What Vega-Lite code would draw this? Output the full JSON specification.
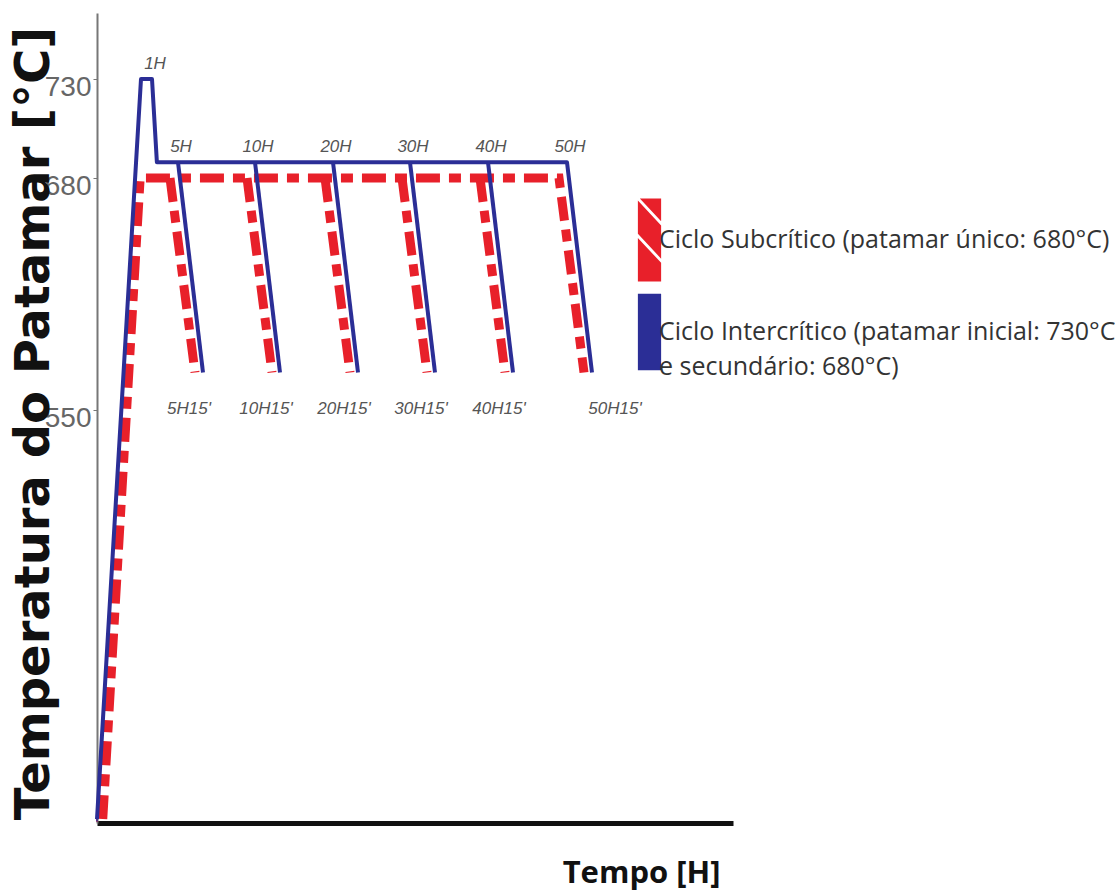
{
  "$schema": "https://vega.github.io/schema/vega-lite/v6.json",
  "width": 636,
  "height": 810,
  "autosize": {"type": "none"},
  "padding": {"left": 97, "top": 13, "right": 382, "bottom": 71},
  "background": "white",
  "config": {"view": {"stroke": null}, "style": {"guide-label": {"lineHeight": 35}}},
  "datasets": {
    "ciclos": [
      {"serie": "Ciclo Subcrítico (patamar único: 680°C)", "seg": "R0", "ord": 1, "t": 0.25, "temp": 25},
      {"serie": "Ciclo Subcrítico (patamar único: 680°C)", "seg": "R0", "ord": 2, "t": 0.93, "temp": 680},
      {"serie": "Ciclo Subcrítico (patamar único: 680°C)", "seg": "R0", "ord": 3, "t": 50, "temp": 680},
      {"serie": "Ciclo Subcrítico (patamar único: 680°C)", "seg": "R0", "ord": 4, "t": 50.25, "temp": 571},
      {"serie": "Ciclo Subcrítico (patamar único: 680°C)", "seg": "R5", "ord": 1, "t": 5, "temp": 680},
      {"serie": "Ciclo Subcrítico (patamar único: 680°C)", "seg": "R5", "ord": 2, "t": 5.25, "temp": 571},
      {"serie": "Ciclo Subcrítico (patamar único: 680°C)", "seg": "R10", "ord": 1, "t": 10, "temp": 680},
      {"serie": "Ciclo Subcrítico (patamar único: 680°C)", "seg": "R10", "ord": 2, "t": 10.25, "temp": 571},
      {"serie": "Ciclo Subcrítico (patamar único: 680°C)", "seg": "R20", "ord": 1, "t": 20, "temp": 680},
      {"serie": "Ciclo Subcrítico (patamar único: 680°C)", "seg": "R20", "ord": 2, "t": 20.25, "temp": 571},
      {"serie": "Ciclo Subcrítico (patamar único: 680°C)", "seg": "R30", "ord": 1, "t": 30, "temp": 680},
      {"serie": "Ciclo Subcrítico (patamar único: 680°C)", "seg": "R30", "ord": 2, "t": 30.25, "temp": 571},
      {"serie": "Ciclo Subcrítico (patamar único: 680°C)", "seg": "R40", "ord": 1, "t": 40, "temp": 680},
      {"serie": "Ciclo Subcrítico (patamar único: 680°C)", "seg": "R40", "ord": 2, "t": 40.25, "temp": 571},
      {"serie": "Ciclo Intercrítico (patamar inicial: 730°C e secundário: 680°C)", "seg": "B0", "ord": 1, "t": 0, "temp": 25},
      {"serie": "Ciclo Intercrítico (patamar inicial: 730°C e secundário: 680°C)", "seg": "B0", "ord": 2, "t": 0.8, "temp": 730},
      {"serie": "Ciclo Intercrítico (patamar inicial: 730°C e secundário: 680°C)", "seg": "B0", "ord": 3, "t": 1, "temp": 730},
      {"serie": "Ciclo Intercrítico (patamar inicial: 730°C e secundário: 680°C)", "seg": "B0", "ord": 4, "t": 1.75, "temp": 688},
      {"serie": "Ciclo Intercrítico (patamar inicial: 730°C e secundário: 680°C)", "seg": "B0", "ord": 5, "t": 50, "temp": 688},
      {"serie": "Ciclo Intercrítico (patamar inicial: 730°C e secundário: 680°C)", "seg": "B0", "ord": 6, "t": 50.25, "temp": 571},
      {"serie": "Ciclo Intercrítico (patamar inicial: 730°C e secundário: 680°C)", "seg": "B5", "ord": 1, "t": 5, "temp": 688},
      {"serie": "Ciclo Intercrítico (patamar inicial: 730°C e secundário: 680°C)", "seg": "B5", "ord": 2, "t": 5.25, "temp": 571},
      {"serie": "Ciclo Intercrítico (patamar inicial: 730°C e secundário: 680°C)", "seg": "B10", "ord": 1, "t": 10, "temp": 688},
      {"serie": "Ciclo Intercrítico (patamar inicial: 730°C e secundário: 680°C)", "seg": "B10", "ord": 2, "t": 10.25, "temp": 571},
      {"serie": "Ciclo Intercrítico (patamar inicial: 730°C e secundário: 680°C)", "seg": "B20", "ord": 1, "t": 20, "temp": 688},
      {"serie": "Ciclo Intercrítico (patamar inicial: 730°C e secundário: 680°C)", "seg": "B20", "ord": 2, "t": 20.25, "temp": 571},
      {"serie": "Ciclo Intercrítico (patamar inicial: 730°C e secundário: 680°C)", "seg": "B30", "ord": 1, "t": 30, "temp": 688},
      {"serie": "Ciclo Intercrítico (patamar inicial: 730°C e secundário: 680°C)", "seg": "B30", "ord": 2, "t": 30.25, "temp": 571},
      {"serie": "Ciclo Intercrítico (patamar inicial: 730°C e secundário: 680°C)", "seg": "B40", "ord": 1, "t": 40, "temp": 688},
      {"serie": "Ciclo Intercrítico (patamar inicial: 730°C e secundário: 680°C)", "seg": "B40", "ord": 2, "t": 40.25, "temp": 571}
    ],
    "marcos": [
      {"rotulo": "1H", "t": 1, "temp": 730},
      {"rotulo": "5H", "t": 5, "temp": 688},
      {"rotulo": "10H", "t": 10, "temp": 688},
      {"rotulo": "20H", "t": 20, "temp": 688},
      {"rotulo": "30H", "t": 30, "temp": 688},
      {"rotulo": "40H", "t": 40, "temp": 688},
      {"rotulo": "50H", "t": 50, "temp": 688}
    ],
    "fins": [
      {"rotulo": "5H15'", "t": 5.25, "temp": 571},
      {"rotulo": "10H15'", "t": 10.25, "temp": 571},
      {"rotulo": "20H15'", "t": 20.25, "temp": 571},
      {"rotulo": "30H15'", "t": 30.25, "temp": 571},
      {"rotulo": "40H15'", "t": 40.25, "temp": 571},
      {"rotulo": "50H15'", "t": 50.25, "temp": 571}
    ],
    "legenda": [
      {"serie": "Ciclo Subcrítico (patamar único: 680°C)", "t": 0, "temp": 25},
      {"serie": "Ciclo Intercrítico (patamar inicial: 730°C e secundário: 680°C)", "t": 0, "temp": 25}
    ]
  },
  "encoding": {
    "x": {
      "field": "t",
      "type": "quantitative",
      "scale": {
        "domain": [0, 1, 5, 5.25, 10, 10.25, 20, 20.25, 30, 30.25, 40, 40.25, 50, 50.25, 55],
        "range": [0, 55, 81, 106, 158, 183, 236, 261, 313, 338, 391, 416, 470, 495, 636],
        "zero": false,
        "nice": false
      },
      "axis": {
        "title": "Tempo [H]",
        "ticks": false,
        "labels": false,
        "grid": false,
        "domainColor": "#111111",
        "domainWidth": 5,
        "titleFont": "Open Sans",
        "titleFontSize": 31,
        "titleFontWeight": "bold",
        "titleColor": "#111111",
        "titleAnchor": null,
        "titleAlign": "right",
        "titleBaseline": "alphabetic",
        "titleX": 623,
        "titleY": 59
      }
    },
    "y": {
      "field": "temp",
      "type": "quantitative",
      "scale": {
        "domain": [20, 550, 680, 730, 765],
        "range": [810, 397, 165, 66, 0],
        "zero": false,
        "nice": false
      },
      "axis": {
        "values": [550, 680, 730],
        "grid": false,
        "domainColor": "#777777",
        "domainWidth": 2,
        "tickColor": "#777777",
        "tickSize": 4,
        "labelFont": "Liberation Sans",
        "labelFontSize": 28,
        "labelColor": "#666666",
        "labelPadding": 2,
        "labelOffset": 8,
        "title": "Temperatura do Patamar [°C]",
        "titleFont": "DejaVu Sans",
        "titleFontSize": 48,
        "titleFontWeight": "bold",
        "titleColor": "#111111",
        "titleAngle": -90,
        "titleAnchor": null,
        "titleAlign": "center",
        "titleBaseline": "alphabetic",
        "titleX": -49,
        "titleY": 410
      }
    }
  },
  "layer": [
    {
      "data": {"name": "legenda"},
      "mark": {"type": "point", "filled": true, "opacity": 1},
      "encoding": {
        "fill": {
          "field": "serie",
          "type": "nominal",
          "scale": {
            "domain": ["Ciclo Subcrítico (patamar único: 680°C)", "Ciclo Intercrítico (patamar inicial: 730°C e secundário: 680°C)"],
            "range": ["#e8202a", "#2b2e96"]
          },
          "legend": {
            "orient": "none",
            "legendX": 510,
            "legendY": 184.5,
            "title": null,
            "symbolSize": 6889,
            "symbolOpacity": 1,
            "labelFont": "Open Sans",
            "labelFontSize": 25,
            "labelColor": "#333333",
            "labelLimit": 1000,
            "labelOffset": -33,
            "rowPadding": 5,
            "labelExpr": "datum.label === 'Ciclo Intercrítico (patamar inicial: 730°C e secundário: 680°C)' ? ['Ciclo Intercrítico (patamar inicial: 730°C', 'e secundário: 680°C)'] : datum.label"
          }
        },
        "shape": {
          "field": "serie",
          "type": "nominal",
          "scale": {
            "domain": ["Ciclo Subcrítico (patamar único: 680°C)", "Ciclo Intercrítico (patamar inicial: 730°C e secundário: 680°C)"],
            "range": [
              "M-0.233,-1L0.28,-1L0.28,-0.45ZM-0.28,-0.95L0.28,-0.35L0.28,0.45L-0.28,-0.15ZM-0.28,-0.05L0.28,0.55L0.28,1L-0.28,1Z",
              "M-0.28,-0.92H0.28V0.92H-0.28Z"
            ]
          }
        }
      }
    },
    {
      "data": {"name": "ciclos"},
      "transform": [{"filter": "datum.seg[0] === 'R'"}],
      "mark": {"type": "line", "strokeWidth": 9, "strokeDash": [24, 9, 12, 9], "xOffset": -8, "color": "#e8202a"},
      "encoding": {
        "detail": {"field": "seg"},
        "order": {"field": "ord", "type": "quantitative"}
      }
    },
    {
      "data": {"name": "ciclos"},
      "transform": [{"filter": "datum.seg[0] === 'B'"}],
      "mark": {"type": "line", "strokeWidth": 4, "strokeJoin": "round", "color": "#2b2e96"},
      "encoding": {
        "detail": {"field": "seg"},
        "order": {"field": "ord", "type": "quantitative"}
      }
    },
    {
      "data": {"name": "marcos"},
      "mark": {"type": "text", "font": "Liberation Sans", "fontStyle": "italic", "fontSize": 17, "color": "#555555", "dy": -15, "dx": 3},
      "encoding": {"text": {"field": "rotulo"}}
    },
    {
      "data": {"name": "fins"},
      "transform": [{"filter": "datum.t < 50"}],
      "mark": {"type": "text", "font": "Liberation Sans", "fontStyle": "italic", "fontSize": 17, "color": "#555555", "dy": 36, "dx": -14},
      "encoding": {"text": {"field": "rotulo"}}
    },
    {
      "data": {"name": "fins"},
      "transform": [{"filter": "datum.t > 50"}],
      "mark": {"type": "text", "font": "Liberation Sans", "fontStyle": "italic", "fontSize": 17, "color": "#555555", "dy": 36, "dx": 23},
      "encoding": {"text": {"field": "rotulo"}}
    }
  ]
}
